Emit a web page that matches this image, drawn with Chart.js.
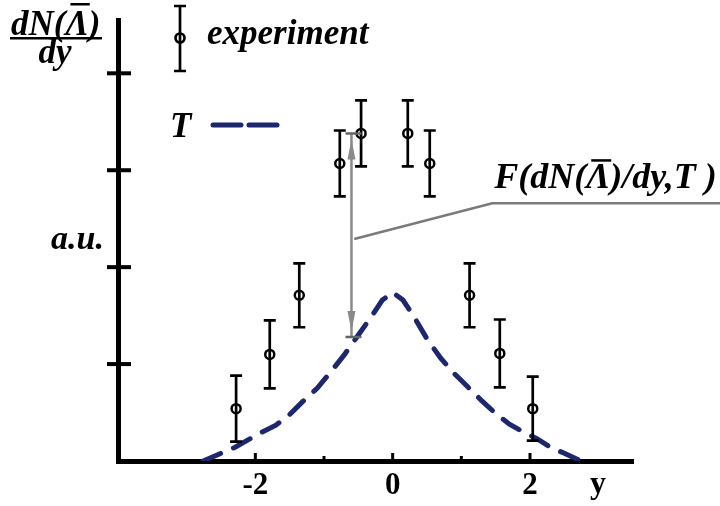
<!DOCTYPE html>
<html lang="en">
<head>
  <meta charset="UTF-8">
  <title>dN/dy experiment vs T</title>
  <script src="https://cdn.jsdelivr.net/npm/chart.js"></script>
  <style>
    html, body { margin: 0; padding: 0; background: #fff; }
    #wrap { width: 720px; height: 506px; }
  </style>
</head>
<body>
  <div id="wrap"><canvas id="chart" width="720" height="506"></canvas></div>

  <script>
    // experiment points (rapidity, yield, error)
    const expX = [-2.28, -1.79, -1.36, -0.77, -0.46, 0.22, 0.54, 1.12, 1.56, 2.04];
    const expY = [0.54, 1.10, 1.71, 3.07, 3.38, 3.38, 3.07, 1.71, 1.11, 0.54];
    const expErr = [0.34, 0.35, 0.33, 0.34, 0.34, 0.34, 0.34, 0.33, 0.35, 0.33];

    // T curve (dashed)
    const curveX = [-2.76, -2.5, -2.3, -2.1, -1.9, -1.7, -1.5, -1.3, -1.1, -0.9, -0.7, -0.5, -0.3, -0.15, 0,
                    0.15, 0.3, 0.5, 0.7, 0.9, 1.1, 1.3, 1.5, 1.7, 1.9, 2.1, 2.3, 2.5, 2.74];
    const curveY = [0, 0.08, 0.14, 0.22, 0.3, 0.37, 0.48, 0.62, 0.75, 0.92, 1.1, 1.3, 1.5, 1.66, 1.74,
                    1.66, 1.5, 1.26, 1.06, 0.9, 0.76, 0.62, 0.49, 0.38, 0.3, 0.23, 0.14, 0.08, 0];

    const xLabelled = [-2, 0, 2];
    const xTicks = [-2, -1, 0, 1, 2];
    const yTicks = [1, 2, 3, 4];

    // the F(...) annotation
    const arrowX = -0.6, arrowTop = 3.38, arrowBottom = 1.28;
    const leaderFrom = [-0.56, 2.29], leaderTo = [1.45, 2.66];

    const SERIF = '"Liberation Serif", "DejaVu Serif", serif';
    const NAVY = '#1c276e';

    function textParts(ctx, x, y, parts, barOff) {
      let cx = x;
      parts.forEach(p => {
        ctx.fillText(p.t, cx, y);
        const w = ctx.measureText(p.t).width;
        if (p.bar) ctx.fillRect(cx + 5, y - barOff, w - 4, 2.5);
        cx += w;
      });
    }

    const decor = {
      id: 'decor',
      afterDatasetsDraw(chart) {
        const { ctx, chartArea: a } = chart;
        const xs = chart.scales.x, ys = chart.scales.y;
        ctx.save();

        // error bars
        ctx.strokeStyle = '#000';
        ctx.lineWidth = 2.7;
        expX.forEach((x, i) => {
          const px = xs.getPixelForValue(x);
          const t = ys.getPixelForValue(expY[i] + expErr[i]);
          const b = ys.getPixelForValue(expY[i] - expErr[i]);
          ctx.beginPath();
          ctx.moveTo(px, t); ctx.lineTo(px, b);
          ctx.moveTo(px - 6, t); ctx.lineTo(px + 6, t);
          ctx.moveTo(px - 6, b); ctx.lineTo(px + 6, b);
          ctx.stroke();
        });

        // tick marks
        ctx.fillStyle = '#000';
        xTicks.forEach(v => {
          const px = xs.getPixelForValue(v);
          const h = v % 2 === 0 ? 8 : 5;
          ctx.fillRect(px - 1.5, a.bottom - h, 3, h);
        });
        yTicks.forEach(v => {
          const py = ys.getPixelForValue(v);
          ctx.fillRect(a.left - 11, py - 2, 24, 4);
        });

        // gray double arrow
        const ax = xs.getPixelForValue(arrowX);
        const at = ys.getPixelForValue(arrowTop);
        const ab = ys.getPixelForValue(arrowBottom);
        ctx.strokeStyle = '#8a8a8a';
        ctx.fillStyle = '#8a8a8a';
        ctx.lineWidth = 2.5;
        ctx.beginPath();
        ctx.moveTo(ax, at); ctx.lineTo(ax, ab);
        ctx.stroke();
        ctx.strokeStyle = '#666';
        ctx.beginPath();
        ctx.moveTo(ax - 6, at); ctx.lineTo(ax + 10, at);
        ctx.moveTo(ax - 6, ab); ctx.lineTo(ax + 10, ab);
        ctx.stroke();
        ctx.beginPath();
        ctx.moveTo(ax, at + 6); ctx.lineTo(ax - 4, at + 26); ctx.lineTo(ax + 4, at + 26); ctx.closePath();
        ctx.moveTo(ax, ab - 6); ctx.lineTo(ax - 4, ab - 26); ctx.lineTo(ax + 4, ab - 26); ctx.closePath();
        ctx.fill();

        // leader line
        const lx1 = xs.getPixelForValue(leaderFrom[0]), ly1 = ys.getPixelForValue(leaderFrom[1]);
        const lx2 = xs.getPixelForValue(leaderTo[0]), ly2 = ys.getPixelForValue(leaderTo[1]);
        ctx.strokeStyle = '#7a7a7a';
        ctx.beginPath();
        ctx.moveTo(lx1, ly1); ctx.lineTo(lx2, ly2); ctx.lineTo(chart.width, ly2);
        ctx.stroke();

        // texts
        ctx.fillStyle = '#000';
        ctx.textBaseline = 'alphabetic';
        ctx.textAlign = 'left';
        ctx.font = 'italic bold 36px ' + SERIF;
        textParts(ctx, lx2 + 2, ly2 - 15, [{ t: 'F(dN(' }, { t: 'Λ', bar: true }, { t: ')/dy,T )' }], 29);
        ctx.font = 'italic bold 35px ' + SERIF;
        textParts(ctx, 11, 35, [{ t: 'dN(' }, { t: 'Λ', bar: true }, { t: ')' }], 32);
        ctx.fillRect(10, 37, 92, 2.5);
        ctx.textAlign = 'center';
        ctx.fillText('dy', 55, 63);
        ctx.textAlign = 'left';
        ctx.font = 'italic bold 34px ' + SERIF;
        ctx.fillText('a.u.', 51, 249);
        ctx.font = 'italic bold 35px ' + SERIF;
        ctx.fillText('experiment', 207, 44);
        ctx.fillText('T', 170, 137);
        ctx.font = 'bold 32px ' + SERIF;
        ctx.textAlign = 'center';
        ctx.fillText('y', 598, 493);

        // legend symbols
        ctx.strokeStyle = '#000';
        ctx.lineWidth = 2.7;
        ctx.beginPath();
        ctx.moveTo(180, 6); ctx.lineTo(180, 71);
        ctx.moveTo(174, 6); ctx.lineTo(186, 6);
        ctx.moveTo(174, 71); ctx.lineTo(186, 71);
        ctx.stroke();
        ctx.beginPath();
        ctx.arc(180, 38, 4.5, 0, Math.PI * 2);
        ctx.stroke();
        ctx.strokeStyle = NAVY;
        ctx.lineWidth = 5;
        ctx.lineCap = 'round';
        ctx.beginPath();
        ctx.moveTo(213, 125); ctx.lineTo(241, 125);
        ctx.moveTo(249, 125); ctx.lineTo(277, 125);
        ctx.stroke();

        ctx.restore();
      }
    };

    new Chart(document.getElementById('chart'), {
      type: 'scatter',
      data: {
        datasets: [
          {
            type: 'line',
            data: curveX.map((x, i) => ({ x, y: curveY[i] })),
            borderColor: NAVY,
            borderWidth: 5,
            borderDash: [19, 14],
            borderCapStyle: 'round',
            pointRadius: 0,
            fill: false,
            tension: 0
          },
          {
            data: expX.map((x, i) => ({ x, y: expY[i] })),
            pointRadius: 4.5,
            pointBorderWidth: 2.5,
            pointBorderColor: '#000',
            pointBackgroundColor: 'rgba(0,0,0,0)'
          }
        ]
      },
      options: {
        responsive: false,
        animation: false,
        layout: { padding: { top: 20, right: 87, left: 0, bottom: 0 } },
        plugins: { legend: { display: false }, tooltip: { enabled: false } },
        scales: {
          x: {
            type: 'linear',
            min: -4, max: 3.5,
            afterFit: s => { s.height = 45; },
            grid: { display: false, drawTicks: false },
            border: { display: true, color: '#000', width: 5 },
            ticks: {
              stepSize: 1,
              padding: 6,
              color: '#000',
              font: { family: SERIF, size: 31, weight: 'bold' },
              callback: v => xLabelled.includes(v) ? String(v) : ''
            }
          },
          y: {
            min: 0, max: 4.55,
            afterFit: s => { s.width = 118; },
            grid: { display: false, drawTicks: false },
            border: { display: true, color: '#000', width: 5 },
            ticks: { display: false }
          }
        }
      },
      plugins: [decor]
    });
  </script>
</body>
</html>
